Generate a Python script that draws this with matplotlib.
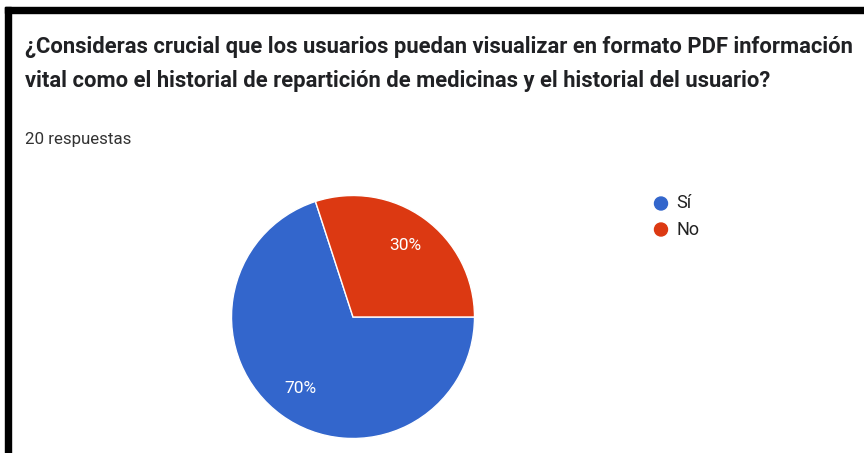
import matplotlib
matplotlib.use("Agg")
import matplotlib.pyplot as plt
from matplotlib.patches import Rectangle, Ellipse

# Survey data
labels = ['Sí', 'No']
values = [70, 30]
colors = ['#3366CC', '#DC3912']
title_lines = ['¿Consideras crucial que los usuarios puedan visualizar en formato PDF información',
               'vital como el historial de repartición de medicinas y el historial del usuario?']
subtitle = '20 respuestas'

W, H = 864, 453
fig = plt.figure(figsize=(W / 100, H / 100), dpi=100)
fig.patch.set_facecolor('white')

def fx(px):
    return px / W

def fy(py):
    return 1 - py / H

# black frame on top and left (screenshot border)
fig.patches.append(Rectangle((fx(5), fy(13)), 1 - fx(5), fy(7) - fy(13),
                             transform=fig.transFigure, color='black', zorder=5))
fig.patches.append(Rectangle((fx(5), 0), fx(11) - fx(5), fy(7),
                             transform=fig.transFigure, color='black', zorder=5))

# title and subtitle
fig.text(fx(25), fy(53), title_lines[0], fontsize=15.8, fontweight='bold',
         family='Roboto', color='#202124', va='baseline', ha='left')
fig.text(fx(25), fy(87), title_lines[1], fontsize=15.8, fontweight='bold',
         family='Roboto', color='#202124', va='baseline', ha='left')
fig.text(fx(25), fy(144), subtitle, fontsize=12.2, family='Roboto',
         color='#333333', va='baseline', ha='left')

# pie chart
cx, cy, r = 353, 317, 121.5
ax = fig.add_axes([fx(cx - r), fy(cy + r), 2 * r / W, 2 * r / H])
wedges, texts, autotexts = ax.pie(values, colors=colors, startangle=0, counterclock=False,
                                  autopct='%1.0f%%', pctdistance=0.73,
                                  wedgeprops=dict(edgecolor='white', linewidth=1),
                                  textprops=dict(color='white', fontsize=12.5, family='Roboto'))
ax.set_xlim(-1, 1)
ax.set_ylim(-1, 1)
ax.set_aspect('equal')
ax.axis('off')

# legend
for i, (lab, col) in enumerate(zip(labels, colors)):
    ly = 203.5 + i * 26
    fig.patches.append(Ellipse((fx(661), fy(ly)), 13 / W, 13 / H, transform=fig.transFigure,
                               color=col, zorder=4))
    fig.text(fx(676), fy(ly), lab, fontsize=13, family='Roboto', color='#222222',
             va='center', ha='left')

fig.savefig('out.png', dpi=100, facecolor='white')
